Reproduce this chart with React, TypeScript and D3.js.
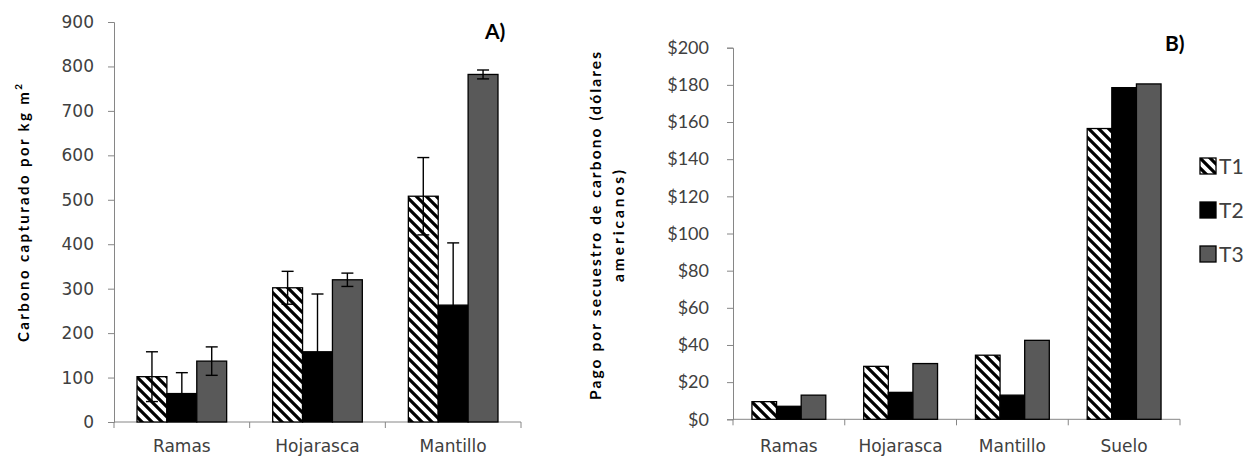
import { useEffect, useRef } from "react";
import * as d3 from "d3";

// Panel A: carbon captured (kg m-2) with error bars
const categoriesA = ["Ramas", "Hojarasca", "Mantillo"];
const carbonT1 = [102, 302, 508];
const carbonT2 = [64, 158, 263];
const carbonT3 = [137, 320, 782];
const errT1 = [56, 37, 87];
const errT2 = [47, 130, 140];
const errT3 = [32, 15, 10];
const ticksA = [0, 100, 200, 300, 400, 500, 600, 700, 800, 900];

// Panel B: payment for carbon sequestration (USD)
const categoriesB = ["Ramas", "Hojarasca", "Mantillo", "Suelo"];
const payT1 = [9.5, 28.5, 34.5, 156.5];
const payT2 = [7, 14.5, 13, 178.5];
const payT3 = [13, 30, 42.5, 180.5];
const ticksB = [0, 20, 40, 60, 80, 100, 120, 140, 160, 180, 200];

const series = ["T1", "T2", "T3"];

type Bar = { cat: string; s: string; v: number; e?: number };

const AXIS = "#868686";
const LABEL = "#404040";
const fills: Record<string, string> = { T1: "url(#hatch)", T2: "#000", T3: "#595959" };

export default function App() {
  const svgRef = useRef<SVGSVGElement | null>(null);

  useEffect(() => {
    if (!svgRef.current) return;
    const svg = d3.select(svgRef.current);
    svg.selectAll("*").remove();

    const defs = svg.append("defs");
    const pat = defs
      .append("pattern")
      .attr("id", "hatch")
      .attr("patternUnits", "userSpaceOnUse")
      .attr("width", 10)
      .attr("height", 10);
    pat.append("rect").attr("width", 10).attr("height", 10).attr("fill", "#fff");
    pat
      .append("path")
      .attr("d", "M-2,-2L12,12M-2,8L2,12M8,-2L12,2")
      .attr("stroke", "#000")
      .attr("stroke-width", 3.2);

    const drawPanel = (
      cats: string[],
      vals: number[][],
      errs: number[][] | null,
      ticks: number[],
      fmt: (d: number) => string,
      box: { x0: number; x1: number; y0: number; y1: number },
      tickFont: string,
      tickSize: number,
      tickGap: number,
      labelDy: number
    ) => {
      const x = d3.scaleBand<string>().domain(cats).range([box.x0, box.x1]).padding(0);
      const xs = d3
        .scaleBand<string>()
        .domain(series)
        .range([0, x.bandwidth()])
        .paddingInner(0)
        .paddingOuter(0.77);
      const y = d3
        .scaleLinear()
        .domain([0, ticks[ticks.length - 1]])
        .range([box.y0, box.y1]);

      const g = svg.append("g");

      // y axis
      const yAxis = g
        .append("g")
        .attr("transform", `translate(${box.x0},0)`)
        .call(d3.axisLeft(y).tickValues(ticks).tickSize(6).tickPadding(tickGap).tickFormat((d) => fmt(d as number)));
      yAxis.select(".domain").attr("stroke", AXIS);
      yAxis.selectAll(".tick line").attr("stroke", AXIS);
      yAxis
        .selectAll(".tick text")
        .attr("fill", LABEL)
        .style("font-family", tickFont)
        .style("font-size", `${tickSize}px`);

      // x axis with ticks at category boundaries
      const xAxis = g.append("g");
      xAxis
        .append("line")
        .attr("x1", box.x0)
        .attr("x2", box.x1)
        .attr("y1", box.y0)
        .attr("y2", box.y0)
        .attr("stroke", AXIS);
      xAxis
        .selectAll("line.bt")
        .data(d3.range(cats.length + 1))
        .join("line")
        .attr("class", "bt")
        .attr("x1", (i) => box.x0 + i * x.step())
        .attr("x2", (i) => box.x0 + i * x.step())
        .attr("y1", box.y0)
        .attr("y2", box.y0 + 6)
        .attr("stroke", AXIS);
      xAxis
        .selectAll("text")
        .data(cats)
        .join("text")
        .attr("x", (d) => (x(d) || 0) + x.bandwidth() / 2)
        .attr("y", box.y0 + labelDy)
        .attr("text-anchor", "middle")
        .attr("fill", LABEL)
        .style("font-family", "DejaVu Sans")
        .style("font-size", "17px")
        .text((d) => d);

      const bars: Bar[] = [];
      cats.forEach((c, i) =>
        series.forEach((s, j) => bars.push({ cat: c, s, v: vals[j][i], e: errs ? errs[j][i] : undefined }))
      );

      g.selectAll("rect.bar")
        .data(bars)
        .join("rect")
        .attr("class", "bar")
        .attr("x", (d) => (x(d.cat) || 0) + (xs(d.s) || 0))
        .attr("y", (d) => y(d.v))
        .attr("width", xs.bandwidth())
        .attr("height", (d) => y(0) - y(d.v))
        .attr("fill", (d) => fills[d.s])
        .attr("stroke", "#000")
        .attr("stroke-width", 1.3);

      if (errs) {
        const eb = g
          .selectAll("g.err")
          .data(bars)
          .join("g")
          .attr("class", "err")
          .attr("stroke", "#000")
          .attr("stroke-width", 1.4);
        const cx = (d: Bar) => (x(d.cat) || 0) + (xs(d.s) || 0) + xs.bandwidth() / 2;
        eb.append("line")
          .attr("x1", cx)
          .attr("x2", cx)
          .attr("y1", (d) => y(d.v + (d.e || 0)))
          .attr("y2", (d) => y(d.v - (d.e || 0)));
        [1, -1].forEach((sgn) =>
          eb
            .append("line")
            .attr("x1", (d) => cx(d) - 6)
            .attr("x2", (d) => cx(d) + 6)
            .attr("y1", (d) => y(d.v + sgn * (d.e || 0)))
            .attr("y2", (d) => y(d.v + sgn * (d.e || 0)))
        );
      }
    };

    drawPanel(
      categoriesA,
      [carbonT1, carbonT2, carbonT3],
      [errT1, errT2, errT3],
      ticksA,
      (d) => `${d}`,
      { x0: 114, x1: 521, y0: 422, y1: 22 },
      "DejaVu Sans",
      17,
      14,
      30
    );

    drawPanel(
      categoriesB,
      [payT1, payT2, payT3],
      null,
      ticksB,
      (d) => `$${d}`,
      { x0: 733, x1: 1180, y0: 419.3, y1: 47.7 },
      "Lato",
      18,
      18,
      33
    );

    // panel letters
    svg
      .append("text")
      .attr("x", 485)
      .attr("y", 39)
      .style("font-family", "Lato")
      .style("font-weight", "700")
      .style("font-size", "21px")
      .text("A)");
    svg
      .append("text")
      .attr("x", 1165)
      .attr("y", 51)
      .style("font-family", "Lato")
      .style("font-weight", "700")
      .style("font-size", "21px")
      .text("B)");

    // y titles
    const tA = svg
      .append("text")
      .attr("transform", "translate(29,213) rotate(-90)")
      .attr("text-anchor", "middle")
      .style("font-family", "Lato")
      .style("font-weight", "700")
      .style("font-size", "15px");
    tA.append("tspan")
      .attr("textLength", 250)
      .attr("lengthAdjust", "spacing")
      .text("Carbono capturado  por kg m");
    tA.append("tspan").attr("dy", -7).style("font-size", "10px").text("2");

    const tB = svg
      .append("g")
      .attr("transform", "translate(0,226) rotate(-90)")
      .style("font-family", "Lato")
      .style("font-weight", "700")
      .style("font-size", "15.5px");
    tB.append("text")
      .attr("x", 0)
      .attr("y", 601)
      .attr("text-anchor", "middle")
      .attr("textLength", 348)
      .attr("lengthAdjust", "spacing")
      .text("Pago  por secuestro de carbono  (dólares");
    tB.append("text")
      .attr("x", 0)
      .attr("y", 624)
      .attr("text-anchor", "middle")
      .attr("textLength", 112)
      .attr("lengthAdjust", "spacing")
      .text("americanos)");

    // legend
    const leg = svg
      .append("g")
      .selectAll("g")
      .data(series)
      .join("g")
      .attr("transform", (_, i) => `translate(1200,${158 + i * 44})`);
    leg.append("rect")
      .attr("width", 16)
      .attr("height", 16)
      .attr("fill", (d) => fills[d])
      .attr("stroke", "#000")
      .attr("stroke-width", 1.3);
    leg.append("text")
      .attr("x", 19)
      .attr("y", 16)
      .attr("fill", LABEL)
      .style("font-family", "Lato")
      .style("font-size", "21px")
      .text((d) => d);
  }, []);

  return (
    <svg
      ref={svgRef}
      width={1251}
      height={458}
      style={{ position: "absolute", left: 0, top: 0, background: "#fff" }}
    />
  );
}
